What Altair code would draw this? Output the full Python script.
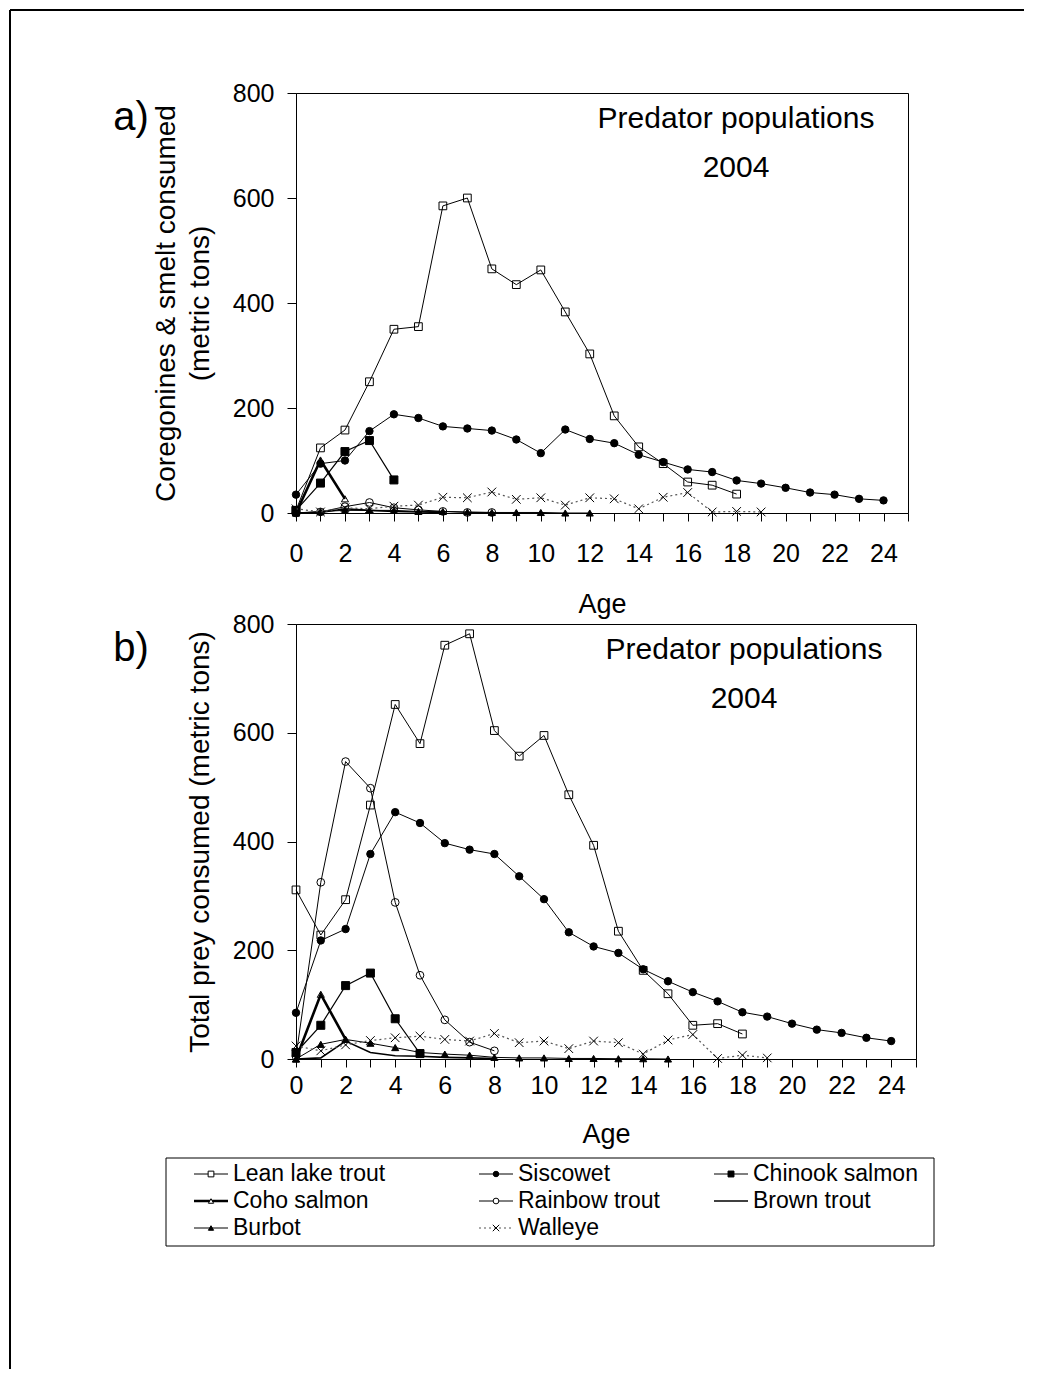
import altair as alt
import pandas as pd

FONT = "Liberation Sans"

SERIES = ["Lean lake trout", "Siscowet", "Chinook salmon", "Coho salmon",
          "Rainbow trout", "Brown trout", "Burbot", "Walleye"]

# ---- panel a: coregonines & smelt consumed (metric tons) ----
lean_a = [5, 124, 158, 250, 350, 355, 585, 600, 465, 435, 463, 383, 303, 185, 126, 94, 59, 53, 36]
sis_a = [35, 94, 100, 156, 188, 181, 165, 161, 157, 140, 114, 159, 141, 133, 111, 97, 83, 78, 62,
         56, 48, 39, 35, 27, 24]
chin_a = [5, 57, 117, 138, 63]
coho_a = [0, 101, 27]
rain_a = [0, 2, 12, 20, 10, 6, 3, 1, 1]
brown_a = [0, 1, 8, 5, 3, 2, 1]
burbot_a = [0, 3, 5, 5, 5, 3, 3, 2, 1, 1, 1, 0, 0]
walleye_a = [8, 2, 10, 8, 13, 15, 30, 29, 40, 26, 29, 15, 29, 27, 8, 30, 39, 2, 3, 2]

# ---- panel b: total prey consumed (metric tons) ----
lean_b = [311, 228, 293, 467, 652, 580, 761, 782, 604, 557, 595, 486, 393, 235, 163, 120, 62, 65, 46]
sis_b = [85, 218, 239, 377, 454, 434, 397, 385, 377, 336, 294, 233, 207, 195, 165, 143, 123, 106,
         86, 78, 65, 54, 48, 39, 33]
chin_b = [12, 62, 135, 158, 74, 10]
coho_b = [0, 119, 36]
rain_b = [5, 325, 547, 498, 288, 154, 72, 31, 15]
brown_b = [0, 2, 33, 12, 6, 5, 3, 2, 1]
burbot_b = [0, 27, 36, 29, 21, 12, 9, 7, 3, 2, 2, 1, 1, 0.5, 0.5, 0]
walleye_b = [24, 15, 26, 34, 39, 42, 36, 33, 47, 30, 33, 19, 33, 30, 9, 35, 45, 1, 7, 2]

PANEL_A = dict(zip(SERIES, [lean_a, sis_a, chin_a, coho_a, rain_a, brown_a, burbot_a, walleye_a]))
PANEL_B = dict(zip(SERIES, [lean_b, sis_b, chin_b, coho_b, rain_b, brown_b, burbot_b, walleye_b]))

X_TICKS = list(range(0, 26))
Y_TICKS = [0, 200, 400, 600, 800]

# legend layout (row, column) per series
LEG_ROW = [0, 0, 0, 1, 1, 1, 2, 2]
LEG_COL = [0, 1, 2, 0, 1, 2, 0, 1]

XPATH = "M-1,-1L1,1M-1,1L1,-1"
STYLE = {
    "Lean lake trout": dict(shape="square", filled=False, size=60, lw=1.0),
    "Siscowet": dict(shape="circle", filled=True, size=55, lw=1.0),
    "Chinook salmon": dict(shape="square", filled=True, size=64, lw=1.2),
    "Coho salmon": dict(shape="triangle-up", filled=False, size=50, lw=2.6),
    "Rainbow trout": dict(shape="circle", filled=False, size=60, lw=1.0),
    "Brown trout": dict(shape=None, filled=False, size=0, lw=1.6),
    "Burbot": dict(shape="triangle-up", filled=True, size=50, lw=1.0),
    "Walleye": dict(shape=XPATH, filled=False, size=75, lw=1.2, dash=[2, 3], color="#555555"),
}


def make_df(panel):
    rows = []
    for s in SERIES:
        for age, v in enumerate(panel[s]):
            rows.append({"series": s, "age": age, "value": v})
    return pd.DataFrame(rows)


def series_layers(df, xenc, yenc):
    layers = []
    for s in SERIES:
        st = STYLE[s]
        d = df[df["series"] == s]
        base = alt.Chart(d).encode(x=xenc, y=yenc)
        lkw = dict(color=st.get("color", "black"), strokeWidth=st["lw"])
        if "dash" in st:
            lkw["strokeDash"] = st["dash"]
        layers.append(base.mark_line(**lkw))
        if st["shape"]:
            pkw = dict(shape=st["shape"], size=st["size"], opacity=1, stroke="black", strokeWidth=1)
            if st["filled"]:
                pkw.update(filled=True, fill="black")
            else:
                pkw.update(filled=False, fill="transparent")
            layers.append(base.mark_point(**pkw))
    return layers


def text_layer(txt, x, y, size, align="center", baseline="middle"):
    return alt.Chart(alt.Data(values=[{}])).mark_text(
        text=txt, font=FONT, fontSize=size, color="black", align=align, baseline=baseline
    ).encode(x=alt.value(x), y=alt.value(y))


def panel(data, width, height, ytitle, ytitle_x, letter, lab_pad, title_y, frame=False):
    df = make_df(data)
    xenc = alt.X("age:Q", scale=alt.Scale(domain=[0, 25], nice=False, zero=False),
                 axis=alt.Axis(values=X_TICKS, labelExpr="datum.value % 2 == 0 ? datum.label : ''",
                               tickSize=8, tickColor="black", domainColor="black", labelColor="black",
                               labelFont=FONT, labelFontSize=25, labelPadding=lab_pad, grid=False,
                               title="Age", titleFont=FONT, titleFontSize=27, titleFontWeight="normal",
                               titleColor="black", titleY=title_y, titleBaseline="middle",
                               labelFlush=False, labelOverlap=False))
    yenc = alt.Y("value:Q", scale=alt.Scale(domain=[0, 800], nice=False),
                 axis=alt.Axis(values=Y_TICKS, tickSize=9, tickColor="black", domainColor="black",
                               labelColor="black", labelFont=FONT, labelFontSize=25, labelPadding=13,
                               grid=False, title=ytitle, titleFont=FONT, titleFontSize=28,
                               titleFontWeight="normal", titleColor="black", titleX=ytitle_x,
                               titleBaseline="bottom", titleLineHeight=34))
    layers = []
    if frame:
        one = alt.Data(values=[{}])
        layers.append(alt.Chart(one).mark_rule(color="black", strokeWidth=2).encode(
            x=alt.value(-286), x2=alt.value(728), y=alt.value(-83)))
        layers.append(alt.Chart(one).mark_rule(color="black", strokeWidth=2).encode(
            x=alt.value(-286), y=alt.value(-83), y2=alt.value(1276)))
    layers += series_layers(df, xenc, yenc)
    layers.append(text_layer(letter, -165, 37, 40, baseline="alphabetic"))
    layers.append(text_layer("Predator populations", width - 172, 26, 30))
    layers.append(text_layer("2004", width - 172, 75, 30))
    return alt.layer(*layers).properties(
        width=width, height=height, view=alt.ViewBackground(stroke="black", strokeWidth=1)
    )


panel_a = panel(PANEL_A, 612, 420, ["Coregonines & smelt consumed", "(metric tons)"], -116,
                "a)", 20, 91, frame=True)
panel_b = panel(PANEL_B, 620, 435, "Total prey consumed (metric tons)", -82, "b)", 6, 75)

# ---- legend ----
leg_df = pd.DataFrame({"series": SERIES, "row": LEG_ROW, "col": LEG_COL})
lx = alt.X("col:Q", scale=alt.Scale(domain=[0, 1, 2], range=[-102, 183, 418]), axis=None)
ly = alt.Y("row:Q", scale=alt.Scale(domain=[0, 2], range=[4, 58]), axis=None)
leg_layers = [alt.Chart(alt.Data(values=[{}])).mark_rect(
    fill="white", fillOpacity=0, stroke="black", strokeWidth=1).encode(
    x=alt.value(-130), x2=alt.value(638), y=alt.value(-12), y2=alt.value(76))]
for s in SERIES:
    st = STYLE[s]
    d = leg_df[leg_df["series"] == s]
    base = alt.Chart(d).encode(x=lx, y=ly)
    rkw = dict(color=st.get("color", "black"), strokeWidth=st["lw"], x2Offset=34)
    if "dash" in st:
        rkw["strokeDash"] = st["dash"]
    leg_layers.append(base.mark_rule(**rkw).encode(x2="col:Q"))
    if st["shape"]:
        pkw = dict(shape=st["shape"], size=max(st["size"] * 0.55, 20), opacity=1, stroke="black",
                   strokeWidth=1, xOffset=17)
        if st["filled"]:
            pkw.update(filled=True, fill="black")
        else:
            pkw.update(filled=False, fill="white")
        leg_layers.append(base.mark_point(**pkw))
    leg_layers.append(base.mark_text(align="left", baseline="middle", dx=39, font=FONT, fontSize=23,
                                     color="black").encode(text="series:N"))

legend = alt.layer(*leg_layers).properties(width=612, height=64)

chart = alt.vconcat(panel_a, panel_b, legend, spacing=111, bounds="flush").properties(
    padding=0
).configure_view(stroke=None)

chart.save("out.html", embed_options={"renderer": "svg", "actions": False})
